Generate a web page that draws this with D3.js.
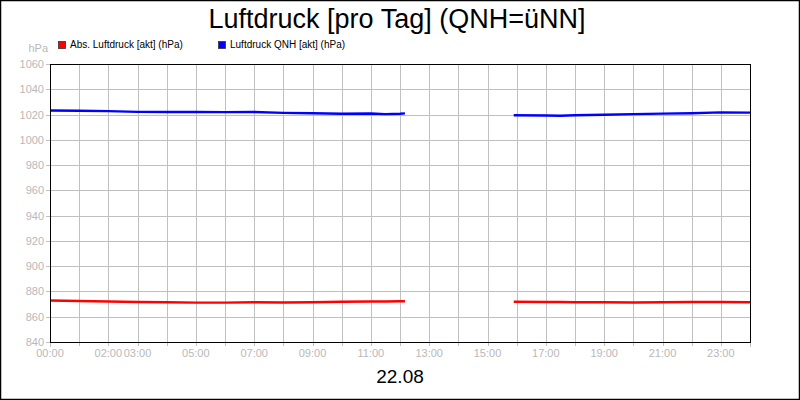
<!DOCTYPE html>
<html><head><meta charset="utf-8">
<script src="https://cdn.jsdelivr.net/npm/d3@7"></script>
<style>body{margin:0;background:#fff}svg{display:block;font-family:Arial,"Liberation Sans",sans-serif}</style>
</head><body>
<svg id="c" width="800" height="400"></svg>
<script>
const title = "Luftdruck [pro Tag] (QNH=üNN]";
const dateLabel = "22.08";
const seriesNames = ["Abs. Luftdruck [akt] (hPa)", "Luftdruck QNH [akt] (hPa)"];
const seriesColors = ["#ff0000", "#0000ff"];
const yTicks = [840,860,880,900,920,940,960,980,1000,1020,1040,1060];
const xTickHours = [0,2,3,5,7,9,11,13,15,17,19,21,23];
// hours of day; null marks the data gap
const hours = [0,1,2,3,4,5,6,7,8,9,10,11,11.5,12,12.17,null,15.9,17,17.5,18,19,20,21,22,23,24];
const absPressure = [872.8,872.4,872.1,871.6,871.4,871.2,871.2,871.4,871.3,871.4,871.8,872.1,872.1,872.2,872.2,null,871.9,871.7,871.6,871.5,871.4,871.3,871.5,871.6,871.6,871.5];
const qnhPressure = [1023.2,1023.0,1022.7,1022.1,1022.0,1022.0,1021.9,1022.0,1021.3,1021.0,1020.6,1020.8,1020.3,1020.6,1020.9,null,1019.5,1019.3,1019.1,1019.4,1019.8,1020.3,1020.7,1021.0,1021.7,1021.5];

const svg = d3.select("#c");
const L = 50, R = 750, T = 64, B = 342;
const x = d3.scaleLinear().domain([0,24]).range([L,R]);
const y = d3.scaleLinear().domain([840,1060]).range([B,T]);
const grey = "#b8b8b8";

svg.append("rect").attr("x",0.5).attr("y",0.5).attr("width",799).attr("height",399)
  .attr("fill","#fff").attr("stroke","#000").attr("stroke-width",1.5);

// grid
const g = svg.append("g");
g.selectAll(".vg").data(d3.range(1,24)).join("line")
  .attr("x1",d=>Math.round(x(d))+0.5).attr("x2",d=>Math.round(x(d))+0.5)
  .attr("y1",T).attr("y2",B+4).attr("stroke","#c0c0c0");
g.selectAll(".hg").data(yTicks.slice(1,-1)).join("line")
  .attr("x1",L-4).attr("x2",R).attr("y1",d=>Math.round(y(d))+0.5).attr("y2",d=>Math.round(y(d))+0.5)
  .attr("stroke","#c0c0c0");
g.selectAll(".et").data([840,1060]).join("line")
  .attr("x1",L-4).attr("x2",L).attr("y1",d=>Math.round(y(d))+0.5).attr("y2",d=>Math.round(y(d))+0.5).attr("stroke","#c0c0c0");
g.selectAll(".ex").data([0,24]).join("line")
  .attr("x1",d=>Math.round(x(d))+0.5).attr("x2",d=>Math.round(x(d))+0.5).attr("y1",B).attr("y2",B+5).attr("stroke","#c0c0c0");

// y labels
svg.append("g").selectAll("text").data(yTicks).join("text")
  .attr("x",L-6).attr("y",d=>y(d)+4).attr("text-anchor","end")
  .attr("font-size",11).attr("fill",grey).text(d=>d);
svg.append("text").attr("x",48).attr("y",52).attr("text-anchor","end")
  .attr("font-size",11).attr("fill",grey).text("hPa");

// x labels
svg.append("g").selectAll("text").data(xTickHours).join("text")
  .attr("x",d=>x(d)).attr("y",357).attr("text-anchor","middle")
  .attr("font-size",11).attr("fill",grey).text(d=>d3.format("02")(d)+":00");

// lines
const pts = vals => hours.map((h,i)=>({h, v: vals[i]}));
const line = d3.line().defined(d=>d.h!==null && d.v!==null).x(d=>x(d.h)).y(d=>y(d.v)).curve(d3.curveLinear);
[absPressure, qnhPressure].forEach((vals,i)=>{
  svg.append("path").datum(pts(vals)).attr("d",line).attr("fill","none")
    .attr("stroke",seriesColors[i]).attr("stroke-width",2.4).attr("stroke-linejoin","round");
});

// frame
svg.append("rect").attr("x",L+0.5).attr("y",T+0.5).attr("width",R-L).attr("height",B-T)
  .attr("fill","none").attr("stroke","#000").attr("stroke-width",1);

// legend
const legX = [58, 218];
seriesNames.forEach((n,i)=>{
  svg.append("rect").attr("x",legX[i]+0.5).attr("y",41.5).attr("width",7).attr("height",7)
    .attr("fill",seriesColors[i]).attr("stroke","#333").attr("stroke-width",0.8);
  svg.append("text").attr("x",legX[i]+12).attr("y",48).attr("font-size",10).attr("fill","#000").text(n);
});

// title and date
svg.append("text").attr("x",397).attr("y",28).attr("text-anchor","middle").attr("font-size",27).attr("fill","#000").text(title);
svg.append("text").attr("x",400).attr("y",383).attr("text-anchor","middle").attr("font-size",19).attr("fill","#000").text(dateLabel);
</script>
</body></html>
